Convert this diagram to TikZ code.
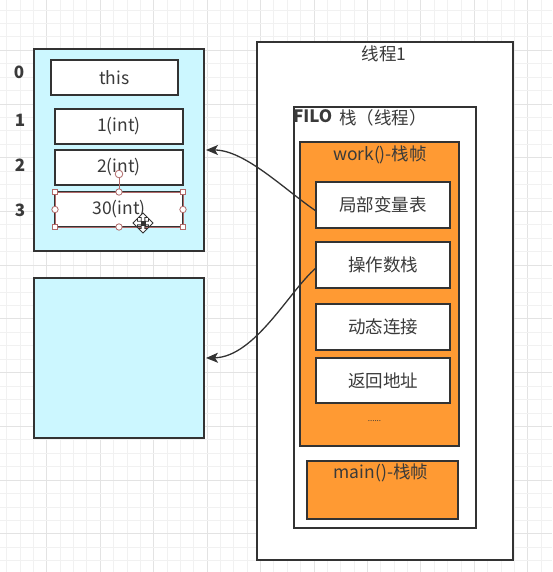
\documentclass[tikz,border=0pt]{standalone}
\usepackage{fontspec}
\setmainfont{Noto Sans CJK SC}
\usetikzlibrary{arrows.meta,calc}
\definecolor{edge}{HTML}{333333}
\definecolor{cyanfill}{HTML}{CCF7FF}
\definecolor{orangefill}{HTML}{FF9A33}
\definecolor{txt}{HTML}{3A3A3A}
\definecolor{handle}{HTML}{B06A6A}
\definecolor{gridminor}{HTML}{F1F1F1}
\definecolor{gridmajor}{HTML}{E3E3E3}
\begin{document}
\begin{tikzpicture}[x=1pt,y=-1pt,
  box/.style={draw=edge,line width=1.5pt,inner sep=0pt,outer sep=0pt,fill=white},
  lbl/.style={text=txt,inner sep=0pt,font=\fontsize{17.5}{17.5}\selectfont},
  idx/.style={text=txt,inner sep=0pt,font=\fontsize{17}{17}\selectfont\bfseries},
  conn/.style={draw=edge,line width=1.3pt,-{Stealth[length=12pt,width=10pt,inset=3pt]}},
  hsq/.style={draw=handle,fill=white,line width=0.8pt},
]
\useasboundingbox (0,0) rectangle (552,572);
\fill[white] (0,0) rectangle (552,572);
% grid
\foreach \k in {0,...,41}{
  \pgfmathsetmacro\gx{6.67+13.36*\k}
  \pgfmathtruncatemacro\m{mod(\k,4)}
  \ifnum\m=3 \draw[gridmajor,line width=0.8pt] (\gx,0) -- (\gx,572);
  \else \draw[gridminor,line width=0.8pt] (\gx,0) -- (\gx,572); \fi
}
\foreach \k in {0,...,42}{
  \pgfmathsetmacro\gy{10+13.43*\k}
  \pgfmathtruncatemacro\m{mod(\k,4)}
  \ifnum\m=3 \draw[gridmajor,line width=0.8pt] (0,\gy) -- (552,\gy);
  \else \draw[gridminor,line width=0.8pt] (0,\gy) -- (552,\gy); \fi
}

% right side: thread
\node[box,minimum width=256pt,minimum height=518pt] (thread) at (385,301) {};
\node[lbl] (threadlbl) at (384,54) {线程1};
\node[box,minimum width=182pt,minimum height=421pt] (filo) at (385,317.5) {};
\node[idx,anchor=west] (filolbl) at (293,116) {FILO};
\node[lbl,anchor=west] (stacklbl) at (339,118) {栈（线程）};

\node[box,fill=orangefill,minimum width=159pt,minimum height=304pt] (work) at (379.5,294) {};
\node[lbl] (worklbl) at (380,155) {work()-栈帧};
\node[box,minimum width=134pt,minimum height=46pt] (lv) at (383,205) {};
\node[lbl] at (lv) {局部变量表};
\node[box,minimum width=134pt,minimum height=46pt] (ops) at (383,265) {};
\node[lbl] at (ops) {操作数栈};
\node[box,minimum width=134pt,minimum height=46pt] (dyn) at (383,327) {};
\node[lbl] at (dyn) {动态连接};
\node[box,minimum width=134pt,minimum height=45pt] (ret) at (383,380.5) {};
\node[lbl] at (ret) {返回地址};
\node[text=txt,inner sep=0pt,font=\fontsize{8}{8}\selectfont] (dots) at (374.5,421) {......};

\node[box,fill=orangefill,minimum width=151pt,minimum height=58pt] (main) at (382.5,490) {};
\node[lbl] (mainlbl) at (381,473) {main()-栈帧};

% left side: local variable table
\node[box,fill=cyanfill,minimum width=170pt,minimum height=202pt] (frame1) at (119,150) {};
\node[box,minimum width=127pt,minimum height=35pt] (this) at (114.5,77.5) {};
\node[lbl] at (this) {this};
\node[box,minimum width=128pt,minimum height=35pt] (v1) at (119,126.5) {};
\node[lbl] at (v1) {1(int)};
\node[box,minimum width=128pt,minimum height=35pt] (v2) at (119,167.5) {};
\node[lbl] at (v2) {2(int)};
\node[box,minimum width=128pt,minimum height=35pt] (v3) at (119,209.5) {};
\node[lbl] at (v3) {30(int)};
\draw[handle,line width=0.8pt] (v3.north west) rectangle (v3.south east);

\node[idx] (i0) at (19,72) {0};
\node[idx] (i1) at (20,120) {1};
\node[idx] (i2) at (20,165) {2};
\node[idx] (i3) at (20,210) {3};

\node[box,fill=cyanfill,minimum width=170pt,minimum height=160pt] (frame2) at (119,358) {};

% selection handles
\coordinate (rot) at ($(v3.north)+(0,-18)$);
\draw[handle,line width=0.8pt] (v3.north) -- (rot);
\filldraw[hsq] (rot) circle (3.8);
\foreach \a in {north west,north east,south west,south east}{
  \filldraw[hsq] ($(v3.\a)+(-2.6,-2.6)$) rectangle ($(v3.\a)+(2.6,2.6)$);
}
\foreach \a in {north,south,west,east}{
  \filldraw[hsq] (v3.\a) circle (3.2);
}
% move cursor
\begin{scope}[shift={(143,223)}]
\filldraw[fill=white,draw=black!80,line width=0.9pt]
 (0,-10) -- (4.5,-5.5) -- (1.8,-5.5) -- (1.8,-1.8) -- (5.5,-1.8) -- (5.5,-4.5) -- (10,0) -- (5.5,4.5) -- (5.5,1.8) -- (1.8,1.8) -- (1.8,5.5) -- (4.5,5.5) -- (0,10) -- (-4.5,5.5) -- (-1.8,5.5) -- (-1.8,1.8) -- (-5.5,1.8) -- (-5.5,4.5) -- (-10,0) -- (-5.5,-4.5) -- (-5.5,-1.8) -- (-1.8,-1.8) -- (-1.8,-5.5) -- (-4.5,-5.5) -- cycle;
\fill[black!80] (-2.5,-2.5) rectangle (2.5,2.5);
\end{scope}

% connectors
\draw[conn] ($(lv.west)+(0,6)$) .. controls (285,190) and (245,150) .. ($(frame1.east)+(2,0)$);
\draw[conn] ($(ops.west)+(0,3)$) .. controls (290,290) and (255,357) .. ($(frame2.east)+(2,0)$);
\end{tikzpicture}
\end{document}
